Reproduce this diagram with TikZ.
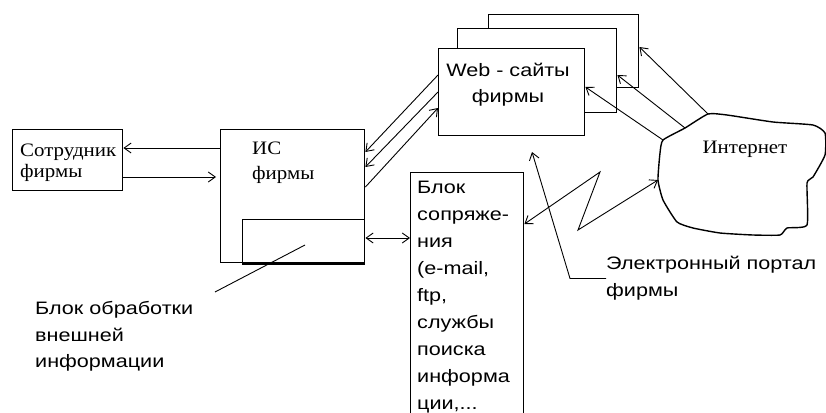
\documentclass[tikz,border=0pt]{standalone}
\usepackage{fontspec}
\setmainfont{Liberation Serif}
\newfontfamily\sansf[FakeStretch=1.2]{Liberation Sans}
\newfontfamily\seriff[FakeStretch=1.1]{Liberation Serif}
\usetikzlibrary{arrows.meta}
\begin{document}
\begin{tikzpicture}[x=1pt,y=-1pt,
  box/.style={draw, line width=1.4pt, inner sep=0, anchor=north west, fill=white},
  conn/.style={line width=0.9pt},
  arr/.style={conn, -{Straight Barb[length=7pt,width=10pt]}},
  darr/.style={conn, {Straight Barb[length=7pt,width=10pt]}-{Straight Barb[length=7pt,width=10pt]}},
  sanslbl/.style={font=\sansf\fontsize{18}{27}\selectfont, align=left, inner sep=0, anchor=west},
  seriflbl/.style={font=\seriff\fontsize{19}{23}\selectfont, align=left, inner sep=0, anchor=west}]
\useasboundingbox (0,0) rectangle (826,412);
\fill[white] (0,0) rectangle (826,412);

% boxes
\node[box, minimum width=110, minimum height=61] (emp) at (12,129) {};
\node[box, minimum width=144, minimum height=133] (is) at (220,129) {};
\node[box, minimum width=122, minimum height=43] (isin) at (242,219) {};
\draw[line width=2.2pt] (isin.south west) -- (isin.south east);
\node[box, minimum width=150, minimum height=73] (web3) at (488,14) {};
\node[box, minimum width=159, minimum height=84] (web2) at (457,28) {};
\node[box, minimum width=146, minimum height=87] (web1) at (438,48) {};
\node[box, minimum width=113, minimum height=260] (blk) at (410,172) {};

% cloud
\draw[line width=1.4pt] plot[smooth cycle, tension=0.3] coordinates {
 (663,140) (685,128) (708,114) (727,115) (773,122) (813,125) (825,133)
 (825,155) (813,177) (807,183) (807,225) (787,228) (780,235) (753,235)
 (720,233) (693,228) (677,222) (663,200) (658,180) (660,153)};
\coordinate (c1) at (663,140);
\coordinate (c2) at (685,128);
\coordinate (c3) at (708,114);
\coordinate (cL) at (658,180);

% texts
\node[seriflbl, font=\seriff\fontsize{19}{21}\selectfont] (emptxt) at (20,162.5) {Сотрудник\\фирмы};
\node[seriflbl, font=\seriff\fontsize{19}{25}\selectfont] (istxt) at (252,162.5) {ИС\\фирмы};
\node[seriflbl, anchor=center] (inet) at (745,149) {Интернет};
\node[sanslbl, anchor=center, align=center, font=\sansf\fontsize{18}{26}\selectfont] (webtxt) at (508,85) {Web - сайты\\фирмы};
\node[sanslbl] (blktxt) at (417,297.5) {Блок\\сопряже-\\ния\\(e-mail,\\ftp,\\службы\\поиска\\информа\\ции,...};
\node[sanslbl] (portal) at (606,278.5) {Электронный портал\\фирмы};
\node[sanslbl, font=\sansf\fontsize{18}{26.5}\selectfont] (proc) at (35,336.5) {Блок обработки\\внешней\\информации};

% connectors
\draw[arr] (is.west |- 0,148) -- (emp.east |- 0,148);
\draw[arr] (emp.east |- 0,177) -- ([xshift=-4pt]is.west |- 0,177);
\draw[arr] (web1.west |- 0,75) -- (is.east |- 0,152);
\draw[arr] (web1.west |- 0,92) -- (is.east |- 0,167);
\draw[arr] (is.east |- 0,187) -- (web1.west |- 0,108);
\draw[darr] (is.east |- 0,238) -- (blk.west |- 0,238);
\draw[arr] (c1) -- (web1.east |- 0,87);
\draw[arr] (c2) -- (web2.east |- 0,75);
\draw[arr] (c3) -- (web3.east |- 0,47);
\draw[darr] (blk.east |- 0,224) -- (600,172) -- (578,230) -- (cL);
\draw[arr] (portal.west) -- (570,278.5) -- (532,152);
\coordinate (p1) at (215,292);
\coordinate (p2) at (305,245);
\draw[conn] (p1) -- (p2);
\end{tikzpicture}
\end{document}
